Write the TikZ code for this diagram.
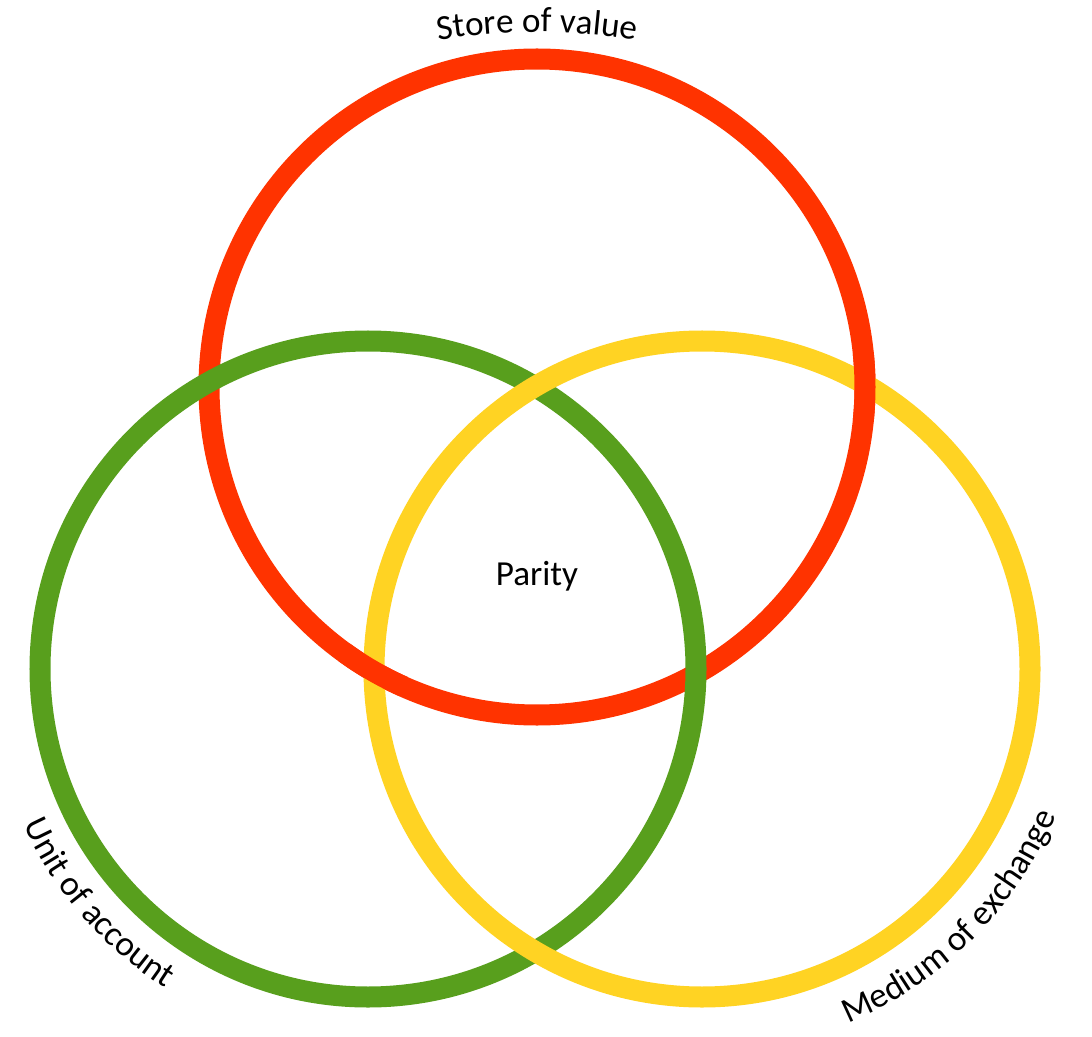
\documentclass[tikz,border=0pt]{standalone}
\usepackage{fontspec}
\setmainfont{Carlito}
\usetikzlibrary{decorations.text}
\definecolor{ringred}{RGB}{255,51,0}
\definecolor{ringgreen}{RGB}{88,159,29}
\definecolor{ringyellow}{RGB}{255,211,35}
\newcommand\lblfont{\fontsize{25}{30}\selectfont}
\begin{document}
\begin{tikzpicture}[x=0.025cm,y=-0.025cm,
  ring/.style={line width=0.525cm},
  curvedlabel/.style={decorate, decoration={text along path, text align=center, text={#1}}}]
\useasboundingbox (0,0) rectangle (1092,1037);
\coordinate (cr) at (537,387);
\coordinate (cg) at (368,669);
\coordinate (cy) at (702,669);
% rings
\draw[ring, ringred] (cr) circle[radius=328];
\draw[ring, ringgreen] (cg) circle[radius=328];
\draw[ring, ringyellow] (cy) circle[radius=328];
% red passes over yellow at both red/yellow crossings
\coordinate (rya) at (863.2,421.3);
\draw[ring, ringred] (rya) arc[start angle=6, end angle=-6, radius=328];
\coordinate (ryb) at (403.6,686.6);
\draw[ring, ringred] (ryb) arc[start angle=-246, end angle=-234, radius=328];
% labels
\coordinate (svstart) at (381.7,52.4);
\path[curvedlabel={|\lblfont|Store of value}] (svstart) arc[start angle=-105, end angle=-75, radius=600];
\coordinate (uastart) at (-4.3,734.6);
\path[curvedlabel={|\lblfont|Unit of account}] (uastart) arc[start angle=-190, end angle=-252, radius=378];
\coordinate (mestart) at (768.5,1046.2);
\path[curvedlabel={|\lblfont|Medium of exchange}] (mestart) arc[start angle=-280, end angle=-350, radius=383];
\node[font=\lblfont] (parity) at (537,576) {Parity};
\end{tikzpicture}
\end{document}
